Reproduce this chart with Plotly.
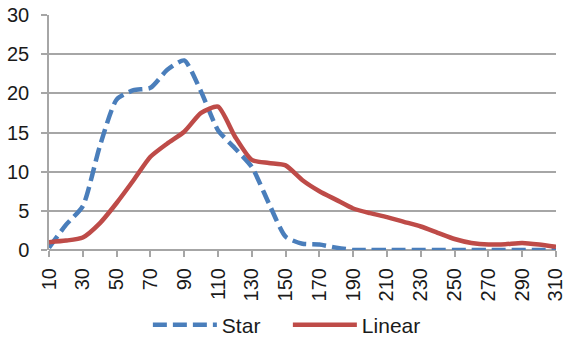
import plotly.graph_objects as go

x_vals = list(range(10, 311, 10))
star = [0.3, 3.2, 5.6, 13.2, 19.2, 20.4, 20.7, 23.0, 24.2, 20.2, 15.3, 13.0, 10.6,
        6.0, 1.7, 0.8, 0.7, 0.3, 0.0, 0.0, 0.0, 0.0, 0.0, 0.0, 0.0, 0.0, 0.0, 0.0,
        0.0, 0.0, 0.0]
linear = [1.0, 1.2, 1.6, 3.4, 6.0, 8.9, 11.9, 13.6, 15.1, 17.5, 18.3, 14.5, 11.5,
          11.1, 10.8, 8.9, 7.5, 6.4, 5.3, 4.7, 4.2, 3.6, 3.0, 2.2, 1.4, 0.9, 0.7,
          0.75, 0.9, 0.7, 0.4]
tick_labels = [str(v) for v in range(10, 311, 20)]

fig = go.Figure()
fig.add_trace(go.Scatter(x=x_vals, y=star, name="Star", mode="lines",
                         line=dict(color="#4A7EBB", width=4.5, dash="14px,6px", shape="spline", smoothing=0.6)))
fig.add_trace(go.Scatter(x=x_vals, y=linear, name="Linear", mode="lines",
                         line=dict(color="#BE4B48", width=4.5, shape="spline", smoothing=0.6)))

font = dict(family="Liberation Sans, Arial, sans-serif", size=20, color="#1a1a1a")
lfont = dict(family="Liberation Sans, Arial, sans-serif", size=21, color="#1a1a1a")
fig.update_layout(
    width=566, height=339,
    margin=dict(l=49, r=10, t=15, b=89, autoexpand=False),
    plot_bgcolor="white", paper_bgcolor="white",
    font=font,
    showlegend=True,
    legend=dict(orientation="h", x=0.195, xanchor="left", y=-0.32, yanchor="middle",
                itemwidth=64, entrywidth=61, entrywidthmode="pixels",
                font=lfont, traceorder="normal"),
    xaxis=dict(range=[9.99, 310.01], tickmode="array", tickvals=[int(t) for t in tick_labels],
               ticktext=tick_labels, tickangle=-90, showgrid=False, zeroline=False,
               showline=False, ticks="outside", ticklen=6, tickcolor="#a6a6a6", tickwidth=1.5,
               tickfont=font, automargin=False, ticklabelstandoff=3, ticklabeloverflow="allow"),
    yaxis=dict(range=[0, 30], tickvals=[0, 5, 10, 15, 20, 25, 30], showgrid=True,
               gridcolor="#a6a6a6", gridwidth=1.5, zeroline=True, zerolinecolor="#a6a6a6",
               zerolinewidth=1.5, showline=True, linecolor="#a6a6a6", linewidth=1.5,
               ticks="outside", ticklen=6, tickcolor="#a6a6a6", tickwidth=1.5, tickfont=font,
               automargin=False, ticklabelstandoff=8, ticklabeloverflow="allow"),
)
fig.write_html("out.html", post_script="document.body.style.margin='0';",
               config={"displayModeBar": False})
